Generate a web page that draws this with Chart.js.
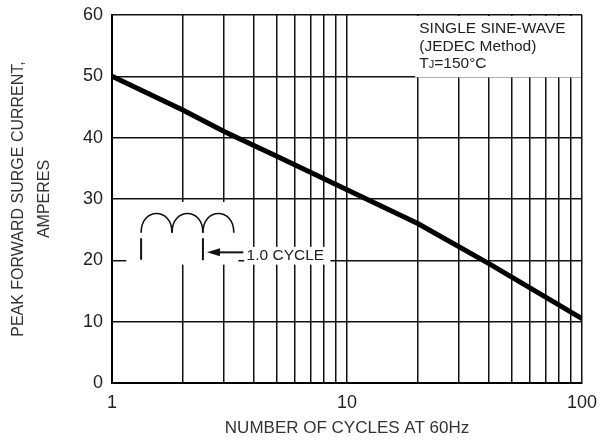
<!DOCTYPE html>
<html>
<head>
<meta charset="utf-8">
<script src="https://cdn.jsdelivr.net/npm/chart.js@4"></script>
<style>
  html, body { margin: 0; padding: 0; background: #fff; }
  #wrap { width: 610px; height: 443px; }
</style>
</head>
<body>
<div id="wrap"><canvas id="surge-chart"></canvas></div>
<script>
// values
const cycles = [1, 2, 3, 5, 10, 20, 40, 100];
const surgeAmps = [50, 44.5, 41, 37, 31.5, 26, 19.5, 10.5];
const xGrid = [1, 2, 3, 4, 5, 6, 7, 8, 9, 10, 20, 30, 40, 50, 60, 70, 80, 90, 100];
const xTickLabels = [1, 10, 100];
const yTicks = [0, 10, 20, 30, 40, 50, 60];
const xTitle = "NUMBER OF CYCLES AT 60Hz";
const yTitle = ["PEAK FORWARD SURGE CURRENT,", "AMPERES"];

const FONT = "'Liberation Sans', Arial, sans-serif";

// white boxes, sine icon, notes and axis titles
const notesPlugin = {
  id: "notes",
  afterDatasetsDraw(chart) {
    const { ctx, chartArea, scales: { x, y } } = chart;
    const px = v => x.getPixelForValue(v);
    const py = v => y.getPixelForValue(v);
    ctx.save();
    ctx.fillStyle = "#fff";
    // note box, top right
    ctx.fillRect(px(19.5), py(60) + 1, px(100) - px(19.5) - 1, py(50) - py(60));
    // icon area
    ctx.fillRect(px(1.15), py(29.5), px(3.45) - px(1.15), py(19.3) - py(29.5));
    // label box
    ctx.fillRect(px(3.65), py(22.2), px(8.5) - px(3.65), py(19.3) - py(22.2));

    ctx.fillStyle = "#222";
    ctx.font = "15.5px " + FONT;
    ctx.textBaseline = "alphabetic";
    ctx.textAlign = "left";
    const tx = px(20.3);
    ctx.fillText("SINGLE SINE-WAVE", tx, py(58) + 5.5);
    ctx.fillText("(JEDEC Method)", tx, py(55.1) + 5.5);
    const tb = py(52.2) + 5.5;
    ctx.fillText("T", tx, tb);
    const tw = ctx.measureText("T").width;
    ctx.font = "11px " + FONT;
    ctx.fillText("J", tx + tw, tb);
    const jw = ctx.measureText("J").width;
    ctx.font = "15.5px " + FONT;
    ctx.fillText("=150°C", tx + tw + jw, tb);

    ctx.textBaseline = "middle";
    ctx.fillText("1.0 CYCLE", px(3.74), py(20.8));

    // three arches
    ctx.strokeStyle = "#111";
    ctx.lineWidth = 1.6;
    const a0 = px(1.33), a1 = px(3.3);
    const w = (a1 - a0) / 3;
    const top = py(28.2), base = py(24.5);
    for (let i = 0; i < 3; i++) {
      const l = a0 + i * w;
      ctx.beginPath();
      ctx.moveTo(l, base);
      ctx.bezierCurveTo(l, top - 3, l + w, top - 3, l + w, base);
      ctx.stroke();
    }
    // cycle markers
    ctx.lineWidth = 2;
    ctx.beginPath();
    ctx.moveTo(a0, py(23.6)); ctx.lineTo(a0, py(20.1));
    ctx.moveTo(a0 + 2 * w, py(23.6)); ctx.lineTo(a0 + 2 * w, py(20));
    ctx.stroke();
    // arrow
    const ay = py(21.3);
    const tipX = a0 + 2 * w + 4;
    ctx.beginPath();
    ctx.moveTo(px(3.62), ay); ctx.lineTo(tipX + 8, ay);
    ctx.stroke();
    ctx.beginPath();
    ctx.moveTo(tipX, ay);
    ctx.lineTo(tipX + 13, ay - 4);
    ctx.lineTo(tipX + 13, ay + 4);
    ctx.closePath();
    ctx.fillStyle = "#111";
    ctx.fill();

    // axis titles
    ctx.fillStyle = "#333";
    ctx.textAlign = "center";
    ctx.textBaseline = "middle";
    ctx.font = "17px " + FONT;
    ctx.fillText(xTitle, (chartArea.left + chartArea.right) / 2, 428);
    ctx.font = "16px " + FONT;
    const cy = (chartArea.top + chartArea.bottom) / 2;
    ctx.translate(19, cy);
    ctx.rotate(-Math.PI / 2);
    ctx.fillText(yTitle[0], 0, 0);
    ctx.fillText(yTitle[1], 0, 26);
    ctx.restore();
  }
};

const noScalePad = s => {
  s.paddingTop = 0; s.paddingBottom = 0;
  s.paddingLeft = 0; s.paddingRight = 0;
};

new Chart(document.getElementById("surge-chart"), {
  type: "line",
  data: {
    datasets: [{
      data: cycles.map((c, i) => ({ x: c, y: surgeAmps[i] })),
      borderColor: "#000",
      borderWidth: 5,
      pointRadius: 0,
      tension: 0,
      fill: false
    }]
  },
  options: {
    responsive: true,
    maintainAspectRatio: false,
    animation: false,
    layout: { padding: { left: 0, right: 28, top: 15, bottom: 0 } },
    plugins: { legend: { display: false }, tooltip: { enabled: false } },
    scales: {
      x: {
        type: "logarithmic",
        min: 1,
        max: 100,
        afterFit: s => { s.height = 60; noScalePad(s); },
        afterBuildTicks: s => { s.ticks = xGrid.map(v => ({ value: v })); },
        grid: { color: "#111", lineWidth: 1.5, drawTicks: false },
        border: { color: "#000", width: 2 },
        ticks: {
          autoSkip: false,
          maxRotation: 0,
          padding: 9,
          color: "#222",
          font: { family: FONT, size: 18 },
          callback: v => (xTickLabels.includes(v) ? String(v) : "")
        }
      },
      y: {
        min: 0,
        max: 60,
        afterFit: s => { s.width = 112; noScalePad(s); },
        afterBuildTicks: s => { s.ticks = yTicks.map(v => ({ value: v })); },
        grid: { color: "#111", lineWidth: 1.5, drawTicks: false },
        border: { color: "#000", width: 2 },
        ticks: {
          padding: 9,
          color: "#222",
          font: { family: FONT, size: 18 }
        }
      }
    }
  },
  plugins: [notesPlugin]
});
</script>
</body>
</html>
